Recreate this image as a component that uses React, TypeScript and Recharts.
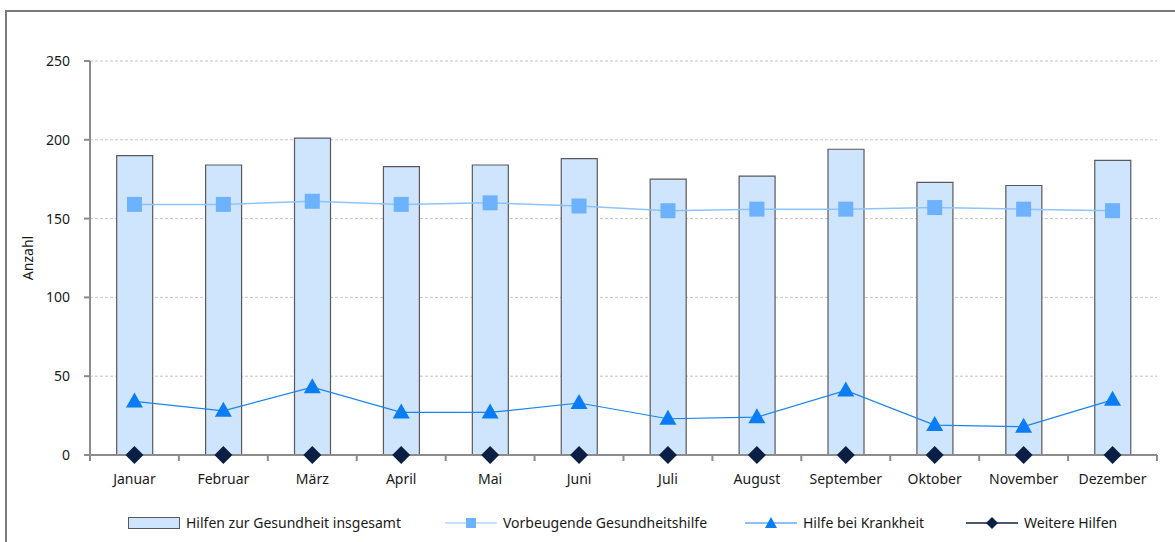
import { ComposedChart, Bar, Line, XAxis, YAxis, CartesianGrid, Label } from 'recharts';

const months = ['Januar', 'Februar', 'März', 'April', 'Mai', 'Juni', 'Juli', 'August', 'September', 'Oktober', 'November', 'Dezember'];
const insgesamt = [190, 184, 201, 183, 184, 188, 175, 177, 194, 173, 171, 187];
const vorbeugend = [159, 159, 161, 159, 160, 158, 155, 156, 156, 157, 156, 155];
const krankheit = [34, 28, 43, 27, 27, 33, 23, 24, 41, 19, 18, 35];
const weitere = [0, 0, 0, 0, 0, 0, 0, 0, 0, 0, 0, 0];
const yTicks = [0, 50, 100, 150, 200, 250];

const data = months.map((m, i) => ({
  name: m,
  insgesamt: insgesamt[i],
  vorbeugend: vorbeugend[i],
  krankheit: krankheit[i],
  weitere: weitere[i],
}));

const FONT = '"Noto Sans", sans-serif';
const TEXT = '#1a1a1a';
const AXIS = '#8c8c8c';

const SquareDot = (props: any) => {
  const { cx, cy } = props;
  if (cx == null || cy == null) return null;
  return <rect x={cx - 7.5} y={cy - 7.5} width={15} height={15} fill="#6cb2ff" />;
};

const TriangleDot = (props: any) => {
  const { cx, cy } = props;
  if (cx == null || cy == null) return null;
  return <path d={`M${cx},${cy - 9} L${cx + 8.5},${cy + 6} L${cx - 8.5},${cy + 6} Z`} fill="#0a7cf5" />;
};

const DiamondDot = (props: any) => {
  const { cx, cy } = props;
  if (cx == null || cy == null) return null;
  return <path d={`M${cx},${cy - 9} L${cx + 9},${cy} L${cx},${cy + 9} L${cx - 9},${cy} Z`} fill="#0b1f45" />;
};

const MonthTick = (props: any) => {
  const { x, y, payload } = props;
  const half = 88.9 / 2;
  return (
    <g>
      <line x1={x + half} x2={x + half} y1={y - 8} y2={y - 2} stroke={AXIS} strokeWidth={2} />
      {payload.index === 0 && <line x1={x - half} x2={x - half} y1={y - 8} y2={y - 2} stroke={AXIS} strokeWidth={2} />}
      <text x={x} y={y + 21} textAnchor="middle" fill={TEXT} fontSize={14} fontFamily={FONT}>
        {payload.value}
      </text>
    </g>
  );
};

function LegendItem({ kind, label }: { kind: string; label: string }) {
  let icon;
  if (kind === 'bar') {
    icon = (
      <svg width={52} height={12}>
        <rect x={0.5} y={0.5} width={51} height={11} fill="#cfe4fd" stroke="#5a5a5a" />
      </svg>
    );
  } else {
    const color = kind === 'square' ? '#8cc4ff' : kind === 'tri' ? '#1a84f0' : '#0b1f45';
    icon = (
      <svg width={52} height={14}>
        <line x1={0} x2={52} y1={7} y2={7} stroke={color} strokeWidth={kind === 'diamond' ? 1.5 : 1.2} />
        {kind === 'square' && <rect x={21} y={2} width={10} height={10} fill="#6cb2ff" />}
        {kind === 'tri' && <path d="M26,1 L32,12 L20,12 Z" fill="#0a7cf5" />}
        {kind === 'diamond' && <path d="M26,1 L32,7 L26,13 L20,7 Z" fill="#0b1f45" />}
      </svg>
    );
  }
  return (
    <div style={{ display: 'flex', alignItems: 'center', gap: 6, whiteSpace: 'nowrap' }}>
      {icon}
      <span>{label}</span>
    </div>
  );
}

export default function App() {
  return (
    <div style={{ position: 'fixed', left: 0, top: 0, width: 1175, height: 542, background: '#fff', overflow: 'hidden' }}>
      <div
        style={{
          position: 'absolute',
          left: 5,
          top: 10,
          width: 1200,
          height: 600,
          borderLeft: '2px solid #7a7a7a',
          borderTop: '2px solid #7a7a7a',
        }}
      />
      <div style={{ position: 'absolute', left: 0, top: 0 }}>
        <ComposedChart
          width={1175}
          height={542}
          data={data}
          margin={{ top: 61, right: 18, bottom: 57, left: 30 }}
          barCategoryGap="30%"
        >
          <CartesianGrid vertical={false} stroke="#c4c4c4" strokeDasharray="3 2" />
          <XAxis
            dataKey="name"
            tickLine={false}
            axisLine={{ stroke: AXIS, strokeWidth: 2 }}
            tick={<MonthTick />}
            interval={0}
            height={30}
          />
          <YAxis
            domain={[0, 250]}
            ticks={yTicks}
            width={60}
            tickSize={6}
            tickMargin={14}
            tickLine={{ stroke: AXIS, strokeWidth: 2 }}
            axisLine={{ stroke: AXIS, strokeWidth: 2 }}
            tick={{ fill: TEXT, fontSize: 14, fontFamily: FONT }}
          >
            <Label
              value="Anzahl"
              angle={-90}
              position="insideLeft"
              offset={-2}
              style={{ fill: TEXT, fontSize: 14, fontFamily: FONT, textAnchor: 'middle' }}
            />
          </YAxis>
          <Bar dataKey="insgesamt" fill="#cfe4fd" stroke="#5a5a5a" strokeWidth={1.2} isAnimationActive={false} />
          <Line dataKey="vorbeugend" stroke="#8cc4ff" strokeWidth={1.5} dot={<SquareDot />} activeDot={false} isAnimationActive={false} />
          <Line dataKey="krankheit" stroke="#1a84f0" strokeWidth={1.2} dot={<TriangleDot />} activeDot={false} isAnimationActive={false} />
          <Line dataKey="weitere" stroke="#0b1f45" strokeWidth={1.5} dot={<DiamondDot />} activeDot={false} isAnimationActive={false} />
        </ComposedChart>
      </div>
      <div
        style={{
          position: 'absolute',
          top: 513,
          left: 128,
          fontFamily: FONT,
          fontSize: 14,
          color: TEXT,
          lineHeight: '20px',
        }}
      >
        <div style={{ position: 'absolute', left: 0, top: 0 }}>
          <LegendItem kind="bar" label="Hilfen zur Gesundheit insgesamt" />
        </div>
        <div style={{ position: 'absolute', left: 317, top: 0 }}>
          <LegendItem kind="square" label="Vorbeugende Gesundheitshilfe" />
        </div>
        <div style={{ position: 'absolute', left: 617, top: 0 }}>
          <LegendItem kind="tri" label="Hilfe bei Krankheit" />
        </div>
        <div style={{ position: 'absolute', left: 838, top: 0 }}>
          <LegendItem kind="diamond" label="Weitere Hilfen" />
        </div>
      </div>
    </div>
  );
}
